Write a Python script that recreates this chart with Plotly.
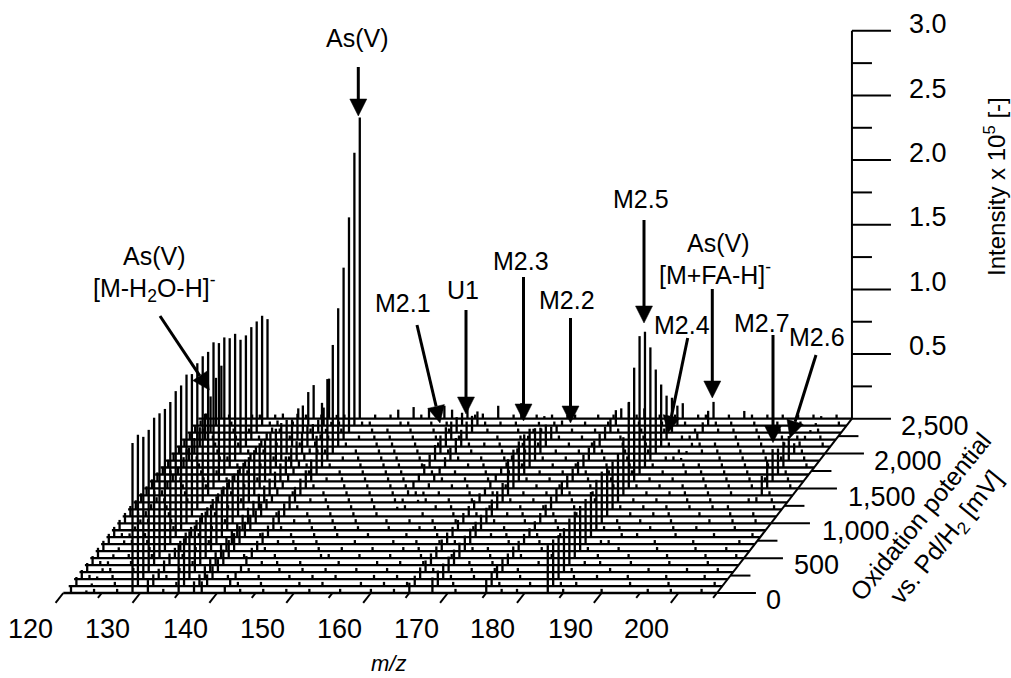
import plotly.graph_objects as go

W, H = 1011, 678
FONT = "Liberation Sans, Arial, sans-serif"

potentials = list(range(0, 2600, 100))
mz_major = [120, 130, 140, 150, 160, 170, 180, 190, 200]
mz_minor = [125, 135, 145, 155, 165, 175, 185, 195, 205]
int_major = [0.5, 1.0, 1.5, 2.0, 2.5, 3.0]
int_minor = [0.25, 0.75, 1.25, 1.75, 2.25, 2.75]
pot_major = [0, 500, 1000, 1500, 2000, 2500]
pot_minor = [250, 750, 1250, 1750, 2250]
pot_labels = ["0", "500", "1,000", "1,500", "2,000", "2,500"]

# main ion traces, intensity x 1e5 for each of the 26 potentials
mz121 = [.06,.07,.07,.07,.07,.08,.08,.08,.08,.08,.08,.08,.07,.07,.07,.07,.07,.06,.06,.06,.06,.05,.05,.05,.04,.04]
mz123 = [.02,.02,.02,.03,.03,.03,.03,.03,.03,.03,.03,.04,.04,.04,.04,.05,.05,.06,.08,.10,.12,.15,.20,.28,.37,.41]
mz129 = [1.16,1.17,1.10,1.10,1.14,1.12,1.10,1.10,1.13,1.12,1.15,1.10,1.13,1.13,1.11,1.13,1.07,1.06,1.00,.98,.88,.86,.87,.86,.85,.77]
mz131 = [.10,.09,.08,.09,.09,.08,.08,.09,.08,.08,.08,.07,.08,.07,.07,.07,.06,.06,.06,.06,.05,.05,.05,.04,.04,.04]
mz135 = [.38,.37,.37,.36,.37,.36,.36,.37,.37,.37,.37,.36,.36,.35,.35,.35,.33,.32,.30,.29,.26,.21,.20,.21,.26,.26]
mz137 = [.09,.09,.10,.10,.10,.11,.11,.11,.11,.12,.12,.12,.12,.13,.13,.13,.14,.14,.15,.15,.16,.16,.12,.10,.14,.31]
mz138 = [.09,.09,.10,.10,.12,.14,.14,.14,.12,.12,.10,.10,.08,.06,.06,.06,.06,.05,.05,.05,.04,.04,.04,.03,.03,.03]
mz141 = [.05,.05,.06,.06,.07,.08,.08,.09,.09,.10,.10,.10,.11,.12,.13,.14,.17,.30,.50,.63,.84,1.07,1.33,1.665,2.11,2.33]
mz155 = [0,0,0,0,0,0,0,0,0,0,0,0,.02,.03,.04,.05,.06,.08,.10,.12,.14,.15,.14,.12,.10,.10]
mz157 = [0,0,0,0,0,0,0,0,0,0,0,0,0,.02,.03,.04,.05,.06,.08,.10,.12,.13,.14,.13,.11,.04]
mz165 = [.08,.08,.09,.09,.09,.09,.09,.09,.08,.08,.08,.08,.07,.07,.06,.06,.05,.05,.04,.04,.04,.03,.03,.03,.03,.02]
mz168 = [.12,.12,.12,.12,.12,.12,.12,.12,.12,.12,.12,.13,.14,.15,.28,.30,.31,.31,.30,.25,.20,.17,.10,.06,.04,.03]
mz175 = [.11,.11,.11,.10,.09,.09,.08,.08,.07,.07,.08,.09,.10,.11,.11,.10,.10,.10,.10,.10,.10,.10,.10,.11,.12,.08]
mz183 = [.37,.36,.34,.34,.36,.36,.35,.35,.35,.39,.40,.38,.37,.38,.45,.665,.88,1.07,1.05,.875,.65,.48,.34,.27,.155,.12]
mz187 = [0,0,0,0,0,0,0,0,0,0,0,0,0,0,0,0,0,0,0,.02,.02,.03,.05,.08,.115,.13]
mz201 = [0,0,0,0,0,0,0,0,0,0,0,0,0,.04,.15,.22,.25,.20,.20,.19,.08,.04,.03,.02,.02,.02]

main_ions = {121: mz121, 123: mz123, 129: mz129, 131: mz131, 135: mz135, 137: mz137,
             138: mz138, 141: mz141, 155: mz155, 157: mz157, 165: mz165, 168: mz168,
             175: mz175, 183: mz183, 187: mz187, 201: mz201}

# weak peaks read trace by trace (m/z)
weak_peaks = [
    [124, 127, 133, 143, 146, 149, 152, 156, 160, 163, 171, 177, 179, 185, 190, 196, 199, 203],
    [123, 126, 134, 142, 145, 150, 153, 158, 161, 164, 170, 176, 180, 184, 186, 193, 198, 204],
    [122, 125, 132, 140, 144, 148, 151, 154, 159, 162, 169, 172, 178, 185, 188, 192, 197, 202],
    [124, 127, 133, 142, 146, 149, 152, 156, 160, 166, 171, 174, 177, 184, 189, 194, 199, 203],
    [122, 126, 134, 143, 145, 148, 153, 158, 161, 164, 170, 173, 179, 185, 187, 191, 196, 201],
    [125, 128, 132, 140, 144, 150, 151, 155, 159, 163, 167, 172, 176, 180, 186, 190, 195, 200, 204],
    [123, 127, 133, 142, 146, 149, 152, 156, 160, 162, 169, 171, 178, 184, 188, 193, 198, 202],
    [124, 126, 134, 143, 145, 148, 153, 158, 161, 164, 166, 173, 177, 185, 186, 192, 197, 203],
    [122, 125, 132, 140, 144, 147, 150, 154, 159, 163, 170, 172, 176, 179, 187, 189, 194, 199, 204],
    [123, 128, 133, 142, 146, 149, 152, 156, 160, 162, 167, 171, 178, 184, 186, 190, 193, 196, 201],
    [124, 127, 134, 143, 145, 148, 151, 155, 158, 161, 164, 169, 173, 177, 185, 188, 192, 197, 200, 203],
    [122, 126, 132, 140, 144, 147, 150, 153, 159, 163, 166, 170, 172, 176, 179, 186, 189, 191, 195, 199, 202],
    [123, 125, 133, 142, 146, 149, 152, 156, 160, 162, 167, 171, 174, 178, 184, 187, 190, 193, 196, 198, 204],
    [124, 127, 134, 143, 145, 148, 151, 154, 158, 161, 164, 169, 172, 177, 180, 185, 188, 192, 195, 200, 203],
    [122, 126, 132, 140, 144, 147, 150, 153, 156, 159, 163, 166, 170, 173, 176, 179, 186, 189, 191, 194, 197, 202],
    [123, 125, 128, 133, 142, 146, 149, 152, 154, 160, 162, 167, 171, 174, 178, 181, 184, 187, 190, 193, 196, 199, 204],
    [124, 127, 130, 134, 143, 145, 148, 151, 153, 158, 161, 164, 169, 172, 177, 180, 185, 188, 192, 195, 198, 200, 203],
    [122, 126, 128, 132, 140, 144, 147, 150, 152, 156, 159, 163, 166, 170, 173, 176, 179, 182, 186, 189, 191, 194, 197, 202],
    [123, 125, 130, 133, 139, 142, 146, 149, 151, 154, 160, 162, 167, 171, 174, 178, 181, 184, 188, 190, 193, 196, 199, 204],
    [124, 127, 128, 134, 136, 143, 145, 148, 150, 153, 158, 161, 164, 169, 172, 177, 180, 185, 186, 192, 195, 198, 200, 203],
    [122, 126, 130, 132, 139, 140, 144, 147, 149, 152, 156, 159, 163, 166, 170, 173, 176, 179, 182, 186, 189, 191, 194, 197, 202],
    [123, 125, 128, 133, 136, 142, 146, 148, 151, 154, 158, 160, 162, 167, 171, 174, 178, 181, 184, 188, 190, 193, 196, 199, 204],
    [124, 127, 130, 134, 139, 143, 145, 147, 150, 153, 156, 161, 164, 169, 172, 177, 180, 185, 186, 192, 195, 198, 200, 203],
    [122, 126, 128, 132, 136, 140, 144, 146, 149, 152, 154, 159, 163, 166, 170, 173, 176, 179, 182, 186, 189, 191, 194, 197, 202],
    [123, 125, 130, 133, 139, 142, 143, 147, 148, 151, 153, 158, 160, 162, 167, 171, 174, 178, 181, 184, 188, 190, 193, 196, 199, 204],
    [124, 127, 128, 130, 134, 136, 139, 143, 145, 146, 149, 150, 152, 156, 159, 161, 164, 166, 169, 172, 174, 177, 180, 182, 185, 186, 189, 192, 194, 196, 198, 200, 203],
]
weak_height = 0.032
back_strong = {22: {122: .05}, 25: {131: .09, 133: .08, 146: .07, 148: .09, 150: .08, 152: .10, 153: .07,
                                    159: .10, 162: .12, 176: .13, 178: .08, 191: .06}}

# projection scale: how the three data axes land on the plane
PX_PER_MZ = 7.69
PX_PER_INT = 129.3
MZ_PER_MV = 135 / PX_PER_MZ / 2500
INT_PER_MV = 174.3 / PX_PER_INT / 2500
X_ORIGIN_PX = 63.3
Y_ORIGIN_PX = 593.0


def px(m, p=0.0, i=0.0):
    """Shear m/z, potential, intensity into the plane's data coordinates."""
    return m + p * MZ_PER_MV, i + p * INT_PER_MV


def from_px(xp, yp):
    return 120 + (xp - X_ORIGIN_PX) / PX_PER_MZ, (Y_ORIGIN_PX - yp) / PX_PER_INT


X_RANGE = [from_px(0, 0)[0], from_px(W, 0)[0]]
Y_RANGE = [from_px(0, H)[1], from_px(0, 0)[1]]

fig = go.Figure()


def add_segments(segs, width, name):
    xs, ys = [], []
    for (a, b) in segs:
        xs += [a[0], b[0], None]
        ys += [a[1], b[1], None]
    fig.add_trace(go.Scatter(x=xs, y=ys, mode="lines", name=name, hoverinfo="skip",
                             line=dict(color="#000000", width=width, simplify=False)))


# spectra
for idx, pot in enumerate(potentials):
    segs = [(px(120, pot), px(205, pot))]
    extras = back_strong.get(idx, {})
    present = {}
    for m in weak_peaks[idx]:
        present[m] = weak_height
    for m, v in extras.items():
        present[m] = v
    for m, arr in main_ions.items():
        if arr[idx] > 0:
            present[m] = arr[idx]
    for m, v in sorted(present.items()):
        segs.append((px(m, pot), px(m, pot, v)))
    add_segments(segs, 2.3, f"{pot} mV")

# axes
TICK_MV_MAJOR, TICK_MV_MINOR = 143, 71
segs = []
for m in mz_major:
    segs.append((px(m), px(m, -TICK_MV_MAJOR)))
for m in mz_minor:
    segs.append((px(m), px(m, -TICK_MV_MINOR)))
segs.append((px(205), px(205, 2500)))
for p in pot_major:
    segs.append((px(205, p), px(205 + 39 / PX_PER_MZ, p)))
for p in pot_minor:
    segs.append((px(205, p), px(205 + 20 / PX_PER_MZ, p)))
segs.append((px(205, 2500), px(205, 2500, 3.0)))
for v in int_major:
    segs.append((px(205, 2500, v), px(205 + 39 / PX_PER_MZ, 2500, v)))
for v in int_minor:
    segs.append((px(205, 2500, v), px(205 + 20 / PX_PER_MZ, 2500, v)))
add_segments(segs, 2.0, "axes")


def text(xp, yp, s, size=27, **kw):
    x, y = from_px(xp, yp)
    fig.add_annotation(x=x, y=y, text=s, showarrow=False, xanchor="center", yanchor="middle",
                       font=dict(family=FONT, size=size, color="#000000"), **kw)


# tick labels
for m, xp in zip(mz_major, [30, 107, 185, 262, 339, 416, 492, 570, 646]):
    text(xp, 629, str(m))
for lab, xp, yp in zip(pot_labels, [773, 816, 856, 882, 908, 935], [600, 565, 531, 497, 461, 426]):
    text(xp, yp, lab)
for v, yp in zip(int_major, [346, 282, 217, 153, 89, 24]):
    text(928, yp, f"{v:.1f}")

text(388, 663, "<i>m/z</i>", size=22)
text(995, 187, "Intensity x 10<sup>5</sup> [-]", size=24, textangle=-90)
text(934, 528, "Oxidation potential<br>vs. Pd/H<sub>2</sub> [mV]", size=25, textangle=-51)

# peak labels
LS = 25
text(357, 38, "As(V)", size=LS)
text(154, 256, "As(V)", size=LS)
text(154, 288, "[M-H<sub>2</sub>O-H]<sup>-</sup>", size=LS)
text(403, 303, "M2.1", size=LS)
text(463, 290, "U1", size=LS)
text(521, 261, "M2.3", size=LS)
text(567, 300, "M2.2", size=LS)
text(641, 199, "M2.5", size=LS)
text(682, 325, "M2.4", size=LS)
text(718, 243, "As(V)", size=LS)
text(715, 273, "[M+FA-H]<sup>-</sup>", size=LS)
text(762, 323, "M2.7", size=LS)
text(817, 337, "M2.6", size=LS)

# arrows: tail and tip on the page
arrows = [
    ("As(V)", (358.3, 67), (358.3, 116)),
    ("As(V) [M-H2O-H]-", (160, 316), (209.3, 390)),
    ("M2.1", (417, 325), (440, 423)),
    ("U1", (466, 310), (466, 414)),
    ("M2.3", (523.5, 277), (523.5, 421)),
    ("M2.2", (570.5, 318), (570.5, 423)),
    ("M2.5", (644, 220), (644, 323)),
    ("M2.4", (687.7, 338), (668, 433)),
    ("As(V) [M+FA-H]-", (712.3, 289), (712.3, 398)),
    ("M2.7", (773, 335), (773, 442.7)),
    ("M2.6", (816, 355), (790, 438)),
]
HEAD_L, HEAD_W = 17, 8.5
for name, tail, tip in arrows:
    dx, dy = tip[0] - tail[0], tip[1] - tail[1]
    n = (dx * dx + dy * dy) ** 0.5
    ux, uy = dx / n, dy / n
    bx, by = tip[0] - ux * HEAD_L, tip[1] - uy * HEAD_L
    line = [from_px(*tail), from_px(bx, by)]
    fig.add_trace(go.Scatter(x=[p[0] for p in line], y=[p[1] for p in line], mode="lines",
                             name=name, hoverinfo="skip", line=dict(color="#000000", width=3)))
    poly = [from_px(*tip), from_px(bx - uy * HEAD_W, by + ux * HEAD_W),
            from_px(bx + uy * HEAD_W, by - ux * HEAD_W), from_px(*tip)]
    fig.add_trace(go.Scatter(x=[p[0] for p in poly], y=[p[1] for p in poly], mode="lines",
                             fill="toself", fillcolor="#000000", name=name + " head", hoverinfo="skip",
                             line=dict(color="#000000", width=0.5)))

fig.update_layout(
    width=W, height=H, margin=dict(l=0, r=0, t=0, b=0), showlegend=False,
    plot_bgcolor="#ffffff", paper_bgcolor="#ffffff",
    xaxis=dict(visible=False, range=X_RANGE, fixedrange=True),
    yaxis=dict(visible=False, range=Y_RANGE, fixedrange=True),
)
fig.write_html("out.html", config={"displayModeBar": False},
               post_script="document.body.style.margin='0';document.body.style.overflow='hidden';")
